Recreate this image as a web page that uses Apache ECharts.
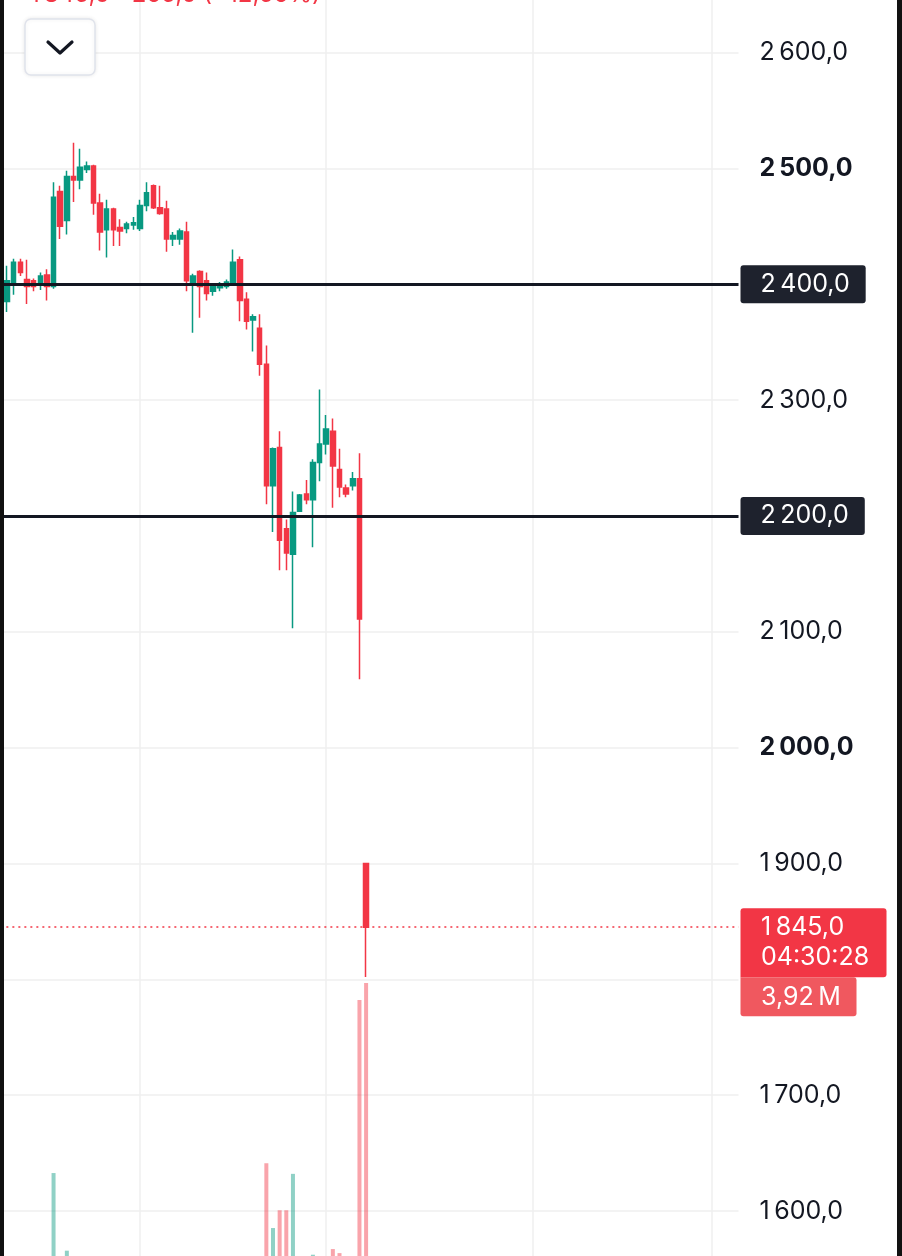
<!DOCTYPE html>
<html>
<head>
<meta charset="utf-8">
<title>Chart</title>
<script src="https://cdn.jsdelivr.net/npm/echarts@6/dist/echarts.min.js"></script>
<style>
  html, body { margin: 0; padding: 0; background: #fff; }
  #chart { width: 902px; height: 1256px; }
</style>
</head>
<body>
<div id="chart"></div>
<script>
// candles, oldest first
const opens  = [2385, 2401, 2419, 2404, 2403, 2399, 2408, 2398, 2480, 2455,
                2493, 2490, 2499, 2502, 2470, 2447, 2465, 2449, 2448, 2451,
                2448, 2468, 2485, 2466, 2465, 2439, 2439, 2445, 2400, 2411,
                2403, 2394, 2397, 2398, 2401, 2421, 2387, 2369, 2362, 2331,
                2226, 2259, 2189, 2167, 2204, 2219, 2214, 2246, 2262, 2273,
                2240, 2224, 2226, 2232, 1900];
const closes = [2403, 2419, 2410, 2398, 2398, 2407, 2398, 2475, 2450, 2493,
                2490, 2501, 2502, 2470, 2445, 2465, 2447, 2446, 2452, 2453,
                2468, 2479, 2466, 2461, 2439, 2442, 2446, 2403, 2407, 2398,
                2392, 2398, 2400, 2402, 2419, 2386, 2368, 2372, 2331, 2226,
                2258, 2179, 2168, 2203, 2218, 2214, 2246, 2262, 2275, 2243,
                2225, 2219, 2232, 2111, 1845];
const lows   = [2376, 2391, 2407, 2383, 2394, 2395, 2386, 2396, 2439, 2443,
                2471, 2482, 2496, 2460, 2429, 2423, 2433, 2433, 2444, 2447,
                2446, 2463, 2465, 2460, 2428, 2433, 2434, 2394, 2358, 2371,
                2386, 2390, 2394, 2396, 2400, 2368, 2361, 2342, 2321, 2210,
                2186, 2153, 2153, 2103, 2204, 2210, 2173, 2230, 2253, 2207,
                2216, 2216, 2222, 2059, 1802];
const highs  = [2416, 2422, 2422, 2421, 2405, 2410, 2413, 2488, 2485, 2498,
                2522, 2517, 2506, 2503, 2478, 2473, 2466, 2456, 2454, 2458,
                2473, 2488, 2486, 2485, 2472, 2445, 2448, 2454, 2409, 2412,
                2410, 2400, 2402, 2404, 2430, 2424, 2393, 2374, 2374, 2347,
                2259, 2273, 2197, 2221, 2219, 2231, 2249, 2309, 2287, 2284,
                2258, 2227, 2238, 2254, 1900];
// volume in millions
const volumes = [0.35, 0.42, 0.28, 0.31, 0.22, 0.25, 0.33, 1.57, 0.48, 0.61,
                 0.45, 0.38, 0.18, 0.41, 0.44, 0.36, 0.30, 0.21, 0.17, 0.19,
                 0.29, 0.34, 0.31, 0.24, 0.40, 0.16, 0.20, 0.47, 0.39, 0.35,
                 0.27, 0.15, 0.14, 0.16, 0.32, 0.49, 0.43, 0.26, 0.46, 1.69,
                 0.89, 1.11, 1.11, 1.56, 0.37, 0.28, 0.56, 0.48, 0.33, 0.63,
                 0.58, 0.25, 0.30, 3.71, 3.92];

const levelLines = [2400, 2200];       // drawn horizontal lines
const boldTicks = [2500, 2000];
const timeLeft = '04:30:28';
const headerText = '1\u2009845,0 \u2212265,0 (\u221212,56%)';

// 112 slots on the time axis, first one is off to the left edge
const slotCount = 112;
const categories = [];
for (let k = 0; k < slotCount; k++) categories.push('t' + k);
const timeLines = [21, 49, 80, 107];   // vertical grid lines (slot index)

const UP = '#089981', DOWN = '#f23645';
const UP_VOL = 'rgba(8,153,129,0.45)', DOWN_VOL = 'rgba(242,54,69,0.45)';
const FONT = 'Inter, Roboto, sans-serif';

function fmtPrice(v) {
  const parts = v.toFixed(1).split('.');
  return parts[0].replace(/\B(?=(\d{3})+(?!\d))/g, '\u2009') + ',' + parts[1];
}

const candleData = ['-'];
const volData = ['-'];
for (let i = 0; i < opens.length; i++) {
  candleData.push([opens[i], closes[i], lows[i], highs[i]]);
  volData.push({ value: volumes[i], itemStyle: { color: closes[i] >= opens[i] ? UP_VOL : DOWN_VOL } });
}
const lastClose = closes[closes.length - 1];
const lastVol = volumes[volumes.length - 1];

const chart = echarts.init(document.getElementById('chart'));

const gridLeft = 0.35, gridWidth = 738.15;

chart.setOption({
  animation: false,
  backgroundColor: '#fff',
  grid: [
    { left: gridLeft, width: gridWidth, top: -63.35, height: 1390.2, outerBoundsMode: 'none', containLabel: false },
    { left: gridLeft, width: gridWidth, top: 895.7, height: 404.3, outerBoundsMode: 'none', containLabel: false }
  ],
  xAxis: [
    {
      type: 'category', gridIndex: 0, data: categories, boundaryGap: false,
      axisLine: { show: false }, axisTick: { show: false }, axisLabel: { show: false },
      splitLine: {
        show: true,
        interval: function (idx) { return timeLines.indexOf(idx) >= 0; },
        lineStyle: { color: '#efefef', width: 1.5 }
      }
    },
    { type: 'category', gridIndex: 1, data: categories, boundaryGap: false, show: false }
  ],
  yAxis: [
    {
      type: 'value', gridIndex: 0, position: 'right', min: 1500, max: 2700, interval: 100,
      axisLine: { show: false }, axisTick: { show: false },
      splitLine: { show: true, lineStyle: { color: '#efefef', width: 1.5 } },
      axisLabel: {
        margin: 21, align: 'left', color: '#131722', fontSize: 25, fontFamily: FONT,
        formatter: function (v) {
          // ticks hidden under the line tags / last price tag
          if (levelLines.indexOf(v) >= 0) return '';
          if (v < lastClose && lastClose - v < 60) return '';
          const s = fmtPrice(v);
          return boldTicks.indexOf(v) >= 0 ? '{b|' + s + '}' : s;
        },
        rich: { b: { fontWeight: 'bold', fontSize: 25, fontFamily: FONT, color: '#131722' } }
      }
    },
    { type: 'value', gridIndex: 1, min: 0, max: 5, show: false }
  ],
  series: [
    {
      type: 'bar', xAxisIndex: 1, yAxisIndex: 1, data: volData, barWidth: 4, z: 1
    },
    {
      type: 'candlestick', xAxisIndex: 0, yAxisIndex: 0, data: candleData, barWidth: 5,
      z: 3,
      itemStyle: { color: UP, color0: DOWN, borderColor: UP, borderColor0: DOWN, borderWidth: 1.5 },
      markLine: {
        silent: true, symbol: 'none', animation: false,
        data: levelLines.map(function (v) {
          return {
            yAxis: v,
            lineStyle: { color: '#131722', width: 3, type: 'solid' },
            label: {
              show: true, position: 'end', distance: 2,
              formatter: fmtPrice(v), color: '#fff', fontSize: 25, fontFamily: FONT,
              lineHeight: 28, backgroundColor: '#1e222d', borderRadius: 3,
              padding: [5, 16, 5, 20]
            }
          };
        }).concat([{
          yAxis: lastClose,
          lineStyle: { color: DOWN, width: 1.5, type: [2, 4] },
          label: { show: false }
        }])
      }
    }
  ]
});

// tags on the price scale + static overlays
const py = chart.convertToPixel({ yAxisIndex: 0 }, lastClose);
chart.setOption({
  graphic: [
    { type: 'rect', z: 100, shape: { x: 0, y: 0, width: 4, height: 1256 }, style: { fill: '#111' } },
    { type: 'rect', z: 100, shape: { x: 897, y: 0, width: 5, height: 1256 }, style: { fill: '#111' } },
    {
      type: 'text', z: 100, x: 30, y: 7,
      style: { text: headerText, fill: DOWN, font: '24px ' + FONT, textVerticalAlign: 'bottom', verticalAlign: 'bottom' }
    },
    {
      type: 'rect', z: 100, shape: { x: 25, y: 19, width: 70, height: 56, r: 6 },
      style: { fill: '#fff', stroke: '#e0e3eb', lineWidth: 1.5, shadowBlur: 4, shadowColor: 'rgba(0,0,0,0.08)' }
    },
    {
      type: 'polyline', z: 101, shape: { points: [[48, 42], [60, 53], [72, 42]] },
      style: { stroke: '#131722', lineWidth: 3.2, fill: null, lineCap: 'round', lineJoin: 'round' }
    },
    {
      type: 'rect', z: 100, shape: { x: 740.5, y: py - 19, width: 146, height: 69, r: [3, 3, 3, 0] },
      style: { fill: DOWN }
    },
    {
      type: 'text', z: 101, x: 761, y: py,
      style: { text: fmtPrice(lastClose), fill: '#fff', font: '25px ' + FONT, textVerticalAlign: 'middle', verticalAlign: 'middle' }
    },
    {
      type: 'text', z: 101, x: 761, y: py + 30,
      style: { text: timeLeft, fill: '#fff', font: '25px ' + FONT, textVerticalAlign: 'middle', verticalAlign: 'middle' }
    },
    {
      type: 'rect', z: 100, shape: { x: 740.5, y: py + 50, width: 116, height: 39, r: [0, 3, 3, 3] },
      style: { fill: '#f0585f' }
    },
    {
      type: 'text', z: 101, x: 761, y: py + 70,
      style: { text: lastVol.toFixed(2).replace('.', ',') + '\u2009M', fill: '#fff', font: '25px ' + FONT, textVerticalAlign: 'middle', verticalAlign: 'middle' }
    }
  ]
});
</script>
</body>
</html>
